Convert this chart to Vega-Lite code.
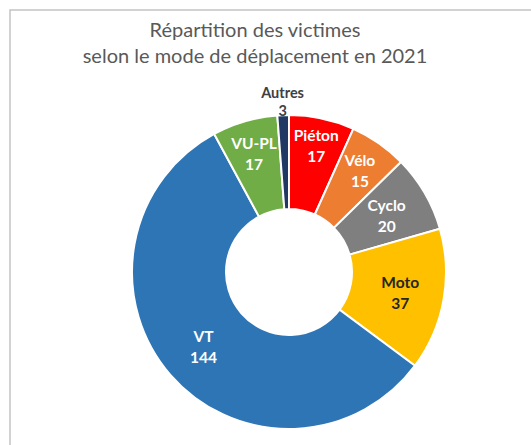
{
  "$schema": "https://vega.github.io/schema/vega-lite/v6.json",
  "autosize": {"type": "none"},
  "width": 558,
  "height": 524,
  "padding": {"left": 10, "top": 10, "right": 0, "bottom": 0},
  "background": "white",
  "view": {"stroke": "#c4c4c4", "strokeWidth": 1.5, "fill": "white"},
  "config": {"view": {"stroke": "#c4c4c4", "strokeWidth": 1.5}},
  "title": {
    "text": ["Répartition des victimes", "selon le mode de déplacement en 2021"],
    "font": "Lato",
    "fontSize": 20,
    "fontWeight": "normal",
    "color": "#595959",
    "anchor": "middle",
    "orient": "top",
    "baseline": "top",
    "offset": -57,
    "dx": -34,
    "lineHeight": 26
  },
  "data": {
    "values": [
      {"rank": 1, "mode": "Piéton", "n": 17},
      {"rank": 2, "mode": "Vélo", "n": 15},
      {"rank": 3, "mode": "Cyclo", "n": 20},
      {"rank": 4, "mode": "Moto", "n": 37},
      {"rank": 5, "mode": "VT", "n": 144},
      {"rank": 6, "mode": "VU-PL", "n": 17},
      {"rank": 7, "mode": "Autres", "n": 3}
    ]
  },
  "transform": [{"calculate": "datum.mode + '\\n' + datum.n", "as": "label"}],
  "encoding": {
    "theta": {"field": "n", "type": "quantitative", "stack": true},
    "order": {"field": "rank", "type": "quantitative"}
  },
  "layer": [
    {
      "mark": {"type": "arc", "innerRadius": 63, "outerRadius": 157, "stroke": "white", "strokeWidth": 2},
      "encoding": {
        "color": {
          "field": "mode",
          "type": "nominal",
          "legend": null,
          "scale": {
            "domain": ["Piéton", "Vélo", "Cyclo", "Moto", "VT", "VU-PL", "Autres"],
            "range": ["#FF0000", "#ED7D31", "#7F7F7F", "#FFC000", "#2E75B6", "#70AD47", "#1F3864"]
          }
        }
      }
    },
    {
      "mark": {"type": "text", "radius": 113, "dy": -9, "font": "Lato", "fontWeight": "bold", "fontSize": 15.5, "lineHeight": 21, "lineBreak": "\n", "baseline": "middle", "align": "center"},
      "encoding": {
        "text": {"condition": {"test": "datum.mode === 'Cyclo' || datum.mode === 'Moto' || datum.mode === 'VT'", "field": "label"}, "value": ""},
        "color": {"condition": {"test": "datum.mode === 'Moto'", "value": "#262626"}, "value": "white"}
      }
    },
    {
      "mark": {"type": "text", "radius": 124, "dy": -9, "font": "Lato", "fontWeight": "bold", "fontSize": 15.5, "lineHeight": 21, "lineBreak": "\n", "baseline": "middle", "align": "center", "color": "white"},
      "encoding": {
        "text": {"condition": {"test": "datum.mode === 'Vélo' || datum.mode === 'VU-PL'", "field": "label"}, "value": ""}
      }
    },
    {
      "mark": {"type": "text", "radius": 130, "dy": -9, "font": "Lato", "fontWeight": "bold", "fontSize": 15.5, "lineHeight": 21, "lineBreak": "\n", "baseline": "middle", "align": "center", "color": "white"},
      "encoding": {
        "text": {"condition": {"test": "datum.mode === 'Piéton'", "field": "label"}, "value": ""}
      }
    },
    {
      "mark": {"type": "text", "radius": 172, "dy": -6, "font": "Lato", "fontWeight": "bold", "fontSize": 14.5, "lineHeight": 18, "lineBreak": "\n", "baseline": "middle", "align": "center", "color": "#404040"},
      "encoding": {
        "text": {"condition": {"test": "datum.mode === 'Autres'", "field": "label"}, "value": ""}
      }
    }
  ]
}
